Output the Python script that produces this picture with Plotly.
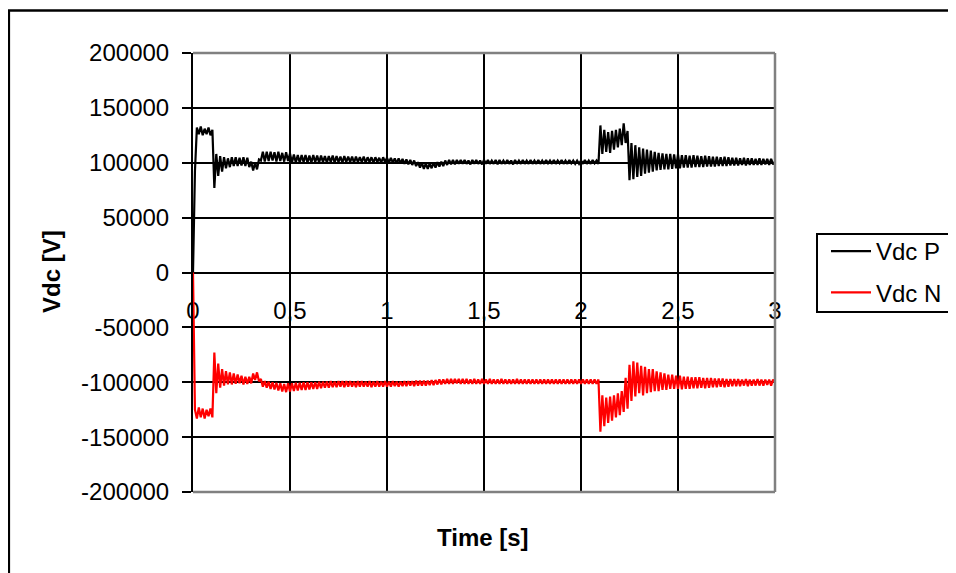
import plotly.graph_objects as go

# ---------------- data ----------------
TIME_STEP = 0.01
N_SAMPLES = 301
TIME = [round(i * TIME_STEP, 2) for i in range(N_SAMPLES)]

VDC_P = [
    0, 92000, 132000, 126000, 133000, 125000, 131000, 126000, 132000, 125000,          # 0.00
    130000, 77000, 108000, 88000, 106000, 92000, 105000, 95000, 104000, 96000,         # 0.10
    105000, 97000, 105000, 97000, 104500, 97500, 105000, 97000, 104500, 96000,         # 0.20
    101000, 93000, 100000, 94000, 103000, 102000, 110000, 101000, 110000, 101500,      # 0.30
    110000, 102000, 109500, 101000, 110000, 101500, 109000, 101000, 109500, 101500,    # 0.40
    108500, 100000, 107500, 100000, 107000, 100000, 107000, 100500, 107000, 100000,    # 0.50
    106500, 100000, 107000, 100500, 106500, 100000, 106500, 100500, 106000, 100000,    # 0.60
    106000, 100500, 106500, 100000, 106000, 100500, 105500, 100000, 106000, 100500,    # 0.70
    105500, 100500, 105500, 100000, 105500, 100500, 105000, 100500, 105500, 100000,    # 0.80
    105000, 100500, 105000, 100000, 105000, 100500, 104500, 100000, 105000, 100500,    # 0.90
    104500, 100000, 104500, 100000, 104000, 99500, 104000, 99500, 103500, 99000,       # 1.00
    103000, 98500, 102500, 98000, 102000, 97000, 100500, 95500, 100000, 94500,         # 1.10
    99500, 94500, 99500, 95000, 100000, 95500, 100500, 96500, 101000, 97000,           # 1.20
    102000, 98000, 102500, 98500, 102500, 98500, 102500, 99000, 102500, 99000,         # 1.30
    102500, 99000, 102000, 98500, 102500, 99000, 102500, 99000, 102000, 98500,         # 1.40
    102500, 99000, 102500, 99000, 102000, 99000, 102500, 98500, 102500, 99000,         # 1.50
    102000, 99000, 102500, 99000, 102000, 98500, 102500, 99000, 102000, 99000,         # 1.60
    102500, 99000, 102000, 99000, 102500, 99000, 102000, 99000, 102500, 99000,         # 1.70
    102000, 99000, 102500, 99500, 102000, 99000, 102500, 99000, 102000, 99500,         # 1.80
    102500, 99000, 102000, 99000, 102500, 99500, 102000, 99000, 102000, 99000,         # 1.90
    102000, 99000, 102500, 99000, 102000, 99000, 102500, 99500, 102000, 99000,         # 2.00
    134000, 108000, 130000, 110000, 128000, 109000, 129000, 112000, 130000, 114000,    # 2.10
    131000, 116000, 136000, 118000, 129000, 84000, 118000, 85000, 116000, 87000,       # 2.20
    114000, 88000, 113000, 90000, 112000, 91000, 111000, 92000, 110000, 93000,         # 2.30
    109000, 93500, 108500, 94000, 108000, 94000, 108000, 94500, 107500, 95000,         # 2.40
    107500, 95000, 107000, 95500, 107000, 95500, 106500, 95500, 107000, 96000,         # 2.50
    106500, 96000, 106000, 96000, 106500, 96500, 106000, 96500, 105500, 96500,         # 2.60
    105500, 97000, 105000, 97000, 105500, 97000, 105000, 97500, 104500, 97500,         # 2.70
    104500, 97500, 104000, 98000, 104500, 97500, 104000, 98000, 104000, 98000,         # 2.80
    103500, 98000, 104000, 98000, 103500, 98500, 103500, 98000, 103500, 98500,         # 2.90
    101000,                                                                            # 3.00
]

VDC_N = [
    0, -125000, -133000, -123000, -132000, -124000, -133000, -125000, -131000, -124000,      # 0.00
    -132000, -73000, -110000, -83000, -105000, -88000, -103000, -90000, -102000, -91000,     # 0.10
    -102000, -92000, -101500, -93000, -101000, -94000, -102000, -95000, -101500, -95000,     # 0.20
    -101000, -92000, -98000, -91000, -99000, -97000, -104000, -99000, -105000, -99500,       # 0.30
    -106000, -100000, -106500, -100500, -107500, -101000, -108500, -101500, -109000, -101000,  # 0.40
    -108500, -101000, -108000, -100500, -107500, -100500, -107000, -100000, -107000, -100000,  # 0.50
    -106500, -100000, -106000, -100000, -106000, -99500, -105500, -99500, -105000, -99500,   # 0.60
    -105000, -99000, -104500, -99500, -104500, -99000, -104000, -99000, -104500, -99000,     # 0.70
    -104000, -99000, -104000, -99500, -104500, -99000, -104000, -99000, -104000, -99500,     # 0.80
    -104000, -99000, -104500, -99500, -104000, -99000, -104000, -99500, -104000, -99000,     # 0.90
    -104000, -99500, -104000, -99000, -103500, -99500, -104000, -99500, -103500, -99000,     # 1.00
    -103500, -99000, -103000, -99000, -103500, -98500, -103000, -98500, -103000, -98500,     # 1.10
    -103000, -98500, -102500, -98000, -102500, -98000, -102000, -97500, -102000, -97500,     # 1.20
    -101500, -97000, -101500, -97000, -101500, -97000, -101000, -97000, -101500, -97000,     # 1.30
    -101500, -97000, -101500, -97500, -101500, -97000, -101500, -97500, -101500, -97000,     # 1.40
    -101500, -97500, -101500, -97000, -101500, -97500, -101500, -97500, -101500, -97000,     # 1.50
    -101500, -97500, -101500, -97500, -101500, -97500, -101500, -97000, -101500, -97500,     # 1.60
    -101500, -97500, -101500, -97500, -101500, -97500, -101500, -97500, -101500, -97500,     # 1.70
    -101500, -97500, -101500, -97500, -101500, -97500, -101500, -97500, -101500, -97500,     # 1.80
    -101500, -97500, -101500, -97500, -101500, -97500, -101500, -97500, -101500, -97500,     # 1.90
    -101500, -97500, -101500, -97500, -101500, -97500, -101500, -97500, -101500, -97500,     # 2.00
    -145000, -112000, -140000, -114000, -137000, -113000, -135000, -112000, -132000, -110000,  # 2.10
    -130000, -108000, -127000, -96000, -124000, -84000, -117000, -81000, -113000, -82000,    # 2.20
    -110000, -85000, -112000, -86000, -110000, -88000, -109000, -88000, -108000, -90000,     # 2.30
    -108000, -91000, -107000, -92000, -107000, -93000, -106000, -93000, -106000, -94000,     # 2.40
    -106000, -94000, -106500, -95000, -106000, -95000, -106000, -95500, -105500, -95500,     # 2.50
    -105500, -95500, -105000, -96000, -105500, -96000, -105000, -96000, -104500, -96500,     # 2.60
    -104500, -96500, -104000, -96500, -104500, -97000, -104000, -97000, -103500, -97000,     # 2.70
    -103500, -97000, -103500, -97500, -103000, -97000, -103500, -97500, -103000, -97500,     # 2.80
    -103000, -97000, -103000, -97500, -103000, -97500, -102500, -97500, -103000, -97500,     # 2.90
    -100500,                                                                                 # 3.00
]

SERIES_NAMES = ["Vdc P", "Vdc N"]
SERIES_COLORS = ["#000000", "#ff0000"]

X_TICK_VALUES = [0, 0.5, 1, 1.5, 2, 2.5, 3]
X_TICK_LABELS = ["0", "0,5", "1", "1,5", "2", "2,5", "3"]
Y_TICK_VALUES = [200000, 150000, 100000, 50000, 0, -50000, -100000, -150000, -200000]
Y_TICK_LABELS = ["200000", "150000", "100000", "50000", "0", "-50000", "-100000", "-150000", "-200000"]

X_TITLE = "Time [s]"
Y_TITLE = "Vdc [V]"

# ---------------- layout helpers (figure pixel geometry) ----------------
W, H = 956, 573
L, R, T, B = 185, 767, 45, 484


def px(xp):
    return (xp - L) / (R - L)


def py(yp):
    return (B - yp) / (B - T)


FONT = "Liberation Sans, Arial, sans-serif"

fig = go.Figure()
for name, vals, col in zip(SERIES_NAMES, [VDC_P, VDC_N], SERIES_COLORS):
    fig.add_trace(go.Scatter(
        x=TIME, y=vals, mode="lines", name=name, legendgroup=name,
        line=dict(color=col, width=2.2),
    ))

shapes = [
    # plot-area frame (grey) top / right / bottom
    dict(type="line", xref="paper", yref="paper", x0=0, x1=1, y0=1, y1=1,
         line=dict(color="#808080", width=2.5), layer="above"),
    dict(type="line", xref="paper", yref="paper", x0=1, x1=1, y0=0, y1=1,
         line=dict(color="#808080", width=2.5), layer="above"),
    dict(type="line", xref="paper", yref="paper", x0=0, x1=1, y0=0, y1=0,
         line=dict(color="#808080", width=2.5), layer="above"),
    # outer chart border (only left and top visible)
    dict(type="line", xref="paper", yref="paper", x0=px(1), x1=px(1), y0=py(2.5), y1=py(700),
         line=dict(color="#000000", width=2.2), layer="above"),
    dict(type="line", xref="paper", yref="paper", x0=px(0), x1=px(1100), y0=py(2.5), y1=py(2.5),
         line=dict(color="#000000", width=2.5), layer="above"),
    # legend box (extends past right edge)
    dict(type="rect", xref="paper", yref="paper", x0=px(809), x1=px(1000), y0=py(304), y1=py(226),
         line=dict(color="#000000", width=2), fillcolor="rgba(0,0,0,0)", layer="above"),
]

annotations = [
    dict(text=f"<b>{Y_TITLE}</b>", xref="paper", yref="paper", x=px(43), y=py(264),
         textangle=-90, showarrow=False, font=dict(family=FONT, size=24, color="black"),
         xanchor="center", yanchor="middle"),
    dict(text=f"<b>{X_TITLE}</b>", xref="paper", yref="paper", x=px(475), y=py(529),
         showarrow=False, font=dict(family=FONT, size=24, color="black"),
         xanchor="center", yanchor="middle"),
]

fig.update_layout(
    width=W, height=H,
    margin=dict(l=L, r=W - R, t=T, b=H - B, autoexpand=False),
    paper_bgcolor="white", plot_bgcolor="white",
    font=dict(family=FONT, size=24, color="black"),
    showlegend=True,
    legend=dict(x=px(818), y=py(264), xanchor="left", yanchor="middle",
                bgcolor="rgba(0,0,0,0)", borderwidth=0, tracegroupgap=7,
                itemwidth=40,
                font=dict(family=FONT, size=24, color="black")),
    shapes=shapes,
    annotations=annotations,
    xaxis=dict(
        range=[0, 3], tickmode="array", tickvals=X_TICK_VALUES, ticktext=X_TICK_LABELS,
        showgrid=True, gridcolor="black", gridwidth=2,
        zeroline=False, showline=True, linecolor="black", linewidth=2,
        anchor="free", position=0.5,
        ticks="outside", ticklen=6, tickwidth=2, tickcolor="black",
        ticklabelstandoff=11, layer="below traces",
        tickfont=dict(family=FONT, size=24, color="black"),
    ),
    yaxis=dict(
        range=[-200000, 200000], tickmode="array", tickvals=Y_TICK_VALUES, ticktext=Y_TICK_LABELS,
        showgrid=True, gridcolor="black", gridwidth=2,
        zeroline=False, showline=True, linecolor="black", linewidth=2,
        ticks="outside", ticklen=9, tickwidth=2, tickcolor="black",
        ticklabelstandoff=8, layer="below traces",
        tickfont=dict(family=FONT, size=24, color="black"),
    ),
)

fig.write_html("out.html")
